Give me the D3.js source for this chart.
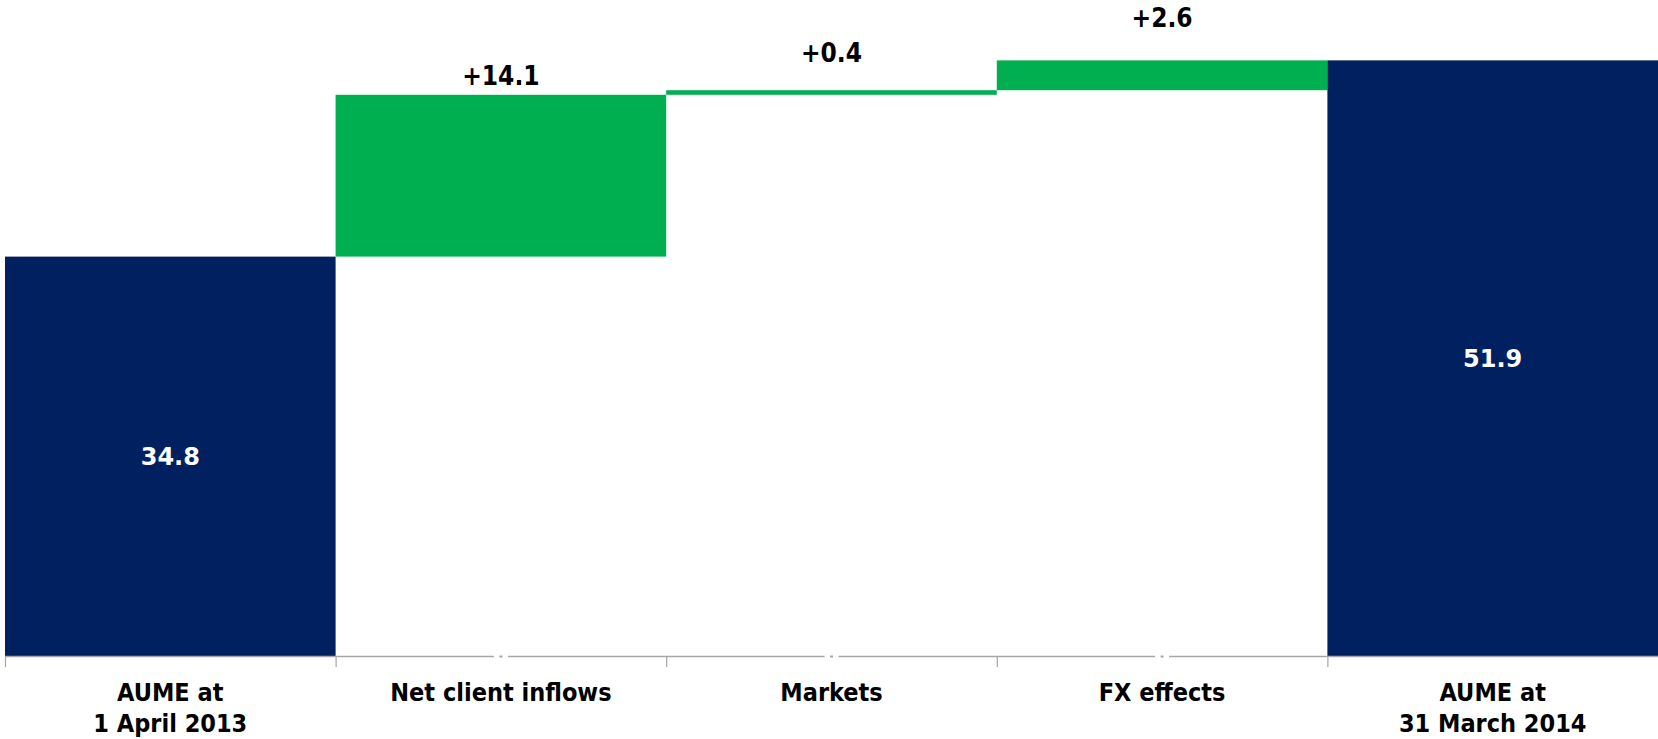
<!DOCTYPE html>
<html>
<head>
<meta charset="utf-8">
<script src="https://cdn.jsdelivr.net/npm/d3@7"></script>
<style>
  html, body { margin: 0; padding: 0; background: #ffffff; }
  svg { display: block; }
</style>
</head>
<body>
<svg id="chart" width="1658" height="739"></svg>
<script>
// ---- data ----
const categories = ["AUME at\n1 April 2013", "Net client inflows", "Markets", "FX effects", "AUME at\n31 March 2014"];
const values = [34.8, 14.1, 0.4, 2.6, 51.9];
const kinds = ["total", "delta", "delta", "delta", "total"];
const valueLabels = ["34.8", "+14.1", "+0.4", "+2.6", "51.9"];

// ---- layout ----
const W = 1658, H = 739;
const left = 5, right = 1658, baseY = 656, yMaxDomain = 57.16;
const navy = "#002060", green = "#00B050", axisGrey = "#A6A6A6";
const labelLift = [0, 10, 28, 33, 0];

const svg = d3.select("#chart");

const x = d3.scaleBand().domain(categories).range([left, right]).paddingInner(0).paddingOuter(0);
const y = d3.scaleLinear().domain([0, yMaxDomain]).range([baseY, 0]);

// compute waterfall segments
let running = 0;
const segs = categories.map((c, i) => {
  let lo, hi;
  if (kinds[i] === "total") { lo = 0; hi = values[i]; running = values[i]; }
  else { lo = running; hi = running + values[i]; running = hi; }
  return { cat: c, lo, hi, kind: kinds[i], label: valueLabels[i], i };
});

// bars
svg.append("g").selectAll("rect").data(segs).join("rect")
  .attr("x", d => x(d.cat))
  .attr("width", x.bandwidth())
  .attr("y", d => y(d.hi))
  .attr("height", d => y(d.lo) - y(d.hi))
  .attr("fill", d => d.kind === "total" ? navy : green);

// axis line
const ax = svg.append("g");
ax.append("line").attr("x1", left).attr("x2", right).attr("y1", baseY + 0.5).attr("y2", baseY + 0.5)
  .attr("stroke", axisGrey).attr("stroke-width", 1.5);
ax.selectAll("line.tick").data(categories).join("line").attr("class", "tick")
  .attr("x1", d => x(d) + 0.5).attr("x2", d => x(d) + 0.5)
  .attr("y1", baseY).attr("y2", baseY + 11)
  .attr("stroke", axisGrey).attr("stroke-width", 1.2);
// small gaps in the axis line at centres of the middle bands
const mids = categories.filter((c, i) => kinds[i] === "delta");
ax.selectAll("rect.gap").data(mids).join("rect").attr("class", "gap")
  .attr("x", d => x(d) + x.bandwidth() / 2 - 7).attr("width", 14)
  .attr("y", baseY - 1).attr("height", 3).attr("fill", "#fff");
ax.selectAll("rect.dot").data(mids).join("rect").attr("class", "dot")
  .attr("x", d => x(d) + x.bandwidth() / 2 - 1.5).attr("width", 3)
  .attr("y", baseY - 0.5).attr("height", 2).attr("fill", axisGrey);

// category labels
const catG = svg.append("g")
  .attr("font-family", "'DejaVu Sans Condensed', 'DejaVu Sans', sans-serif")
  .attr("font-weight", "bold").attr("font-size", 25).attr("fill", "#000")
  .attr("text-anchor", "middle");
catG.selectAll("text").data(categories).join("text")
  .attr("x", d => x(d) + x.bandwidth() / 2)
  .attr("y", 701)
  .each(function(d) {
    const lines = d.split("\n");
    d3.select(this).selectAll("tspan").data(lines).join("tspan")
      .attr("x", x(d) + x.bandwidth() / 2)
      .attr("dy", (l, j) => j === 0 ? 0 : 31)
      .text(l => l);
  });

// value labels
const valG = svg.append("g").attr("font-weight", "bold").attr("text-anchor", "middle");
valG.selectAll("text").data(segs).join("text")
  .attr("x", d => x(d.cat) + x.bandwidth() / 2)
  .attr("y", d => d.kind === "total" ? (y(d.lo) + y(d.hi)) / 2 + 9 : y(d.hi) - labelLift[d.i])
  .attr("font-family", d => d.kind === "total" ? "'DejaVu Sans', sans-serif" : "'DejaVu Sans Condensed', 'DejaVu Sans', sans-serif")
  .attr("font-size", d => d.kind === "total" ? 24 : 26)
  .attr("fill", d => d.kind === "total" ? "#fff" : "#000")
  .text(d => d.label);
</script>
</body>
</html>
